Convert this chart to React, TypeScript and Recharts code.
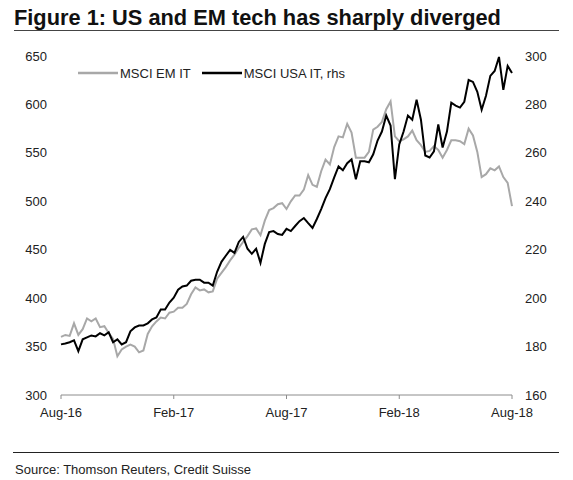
import { Legend, Line, LineChart, XAxis, YAxis } from "recharts";

// weekly readings, Aug-16 .. Aug-18
const emIt = [
  360, 362, 361, 374, 362, 368, 379, 376, 379, 370,
  371, 364, 358, 340, 347, 350, 352, 350, 344, 346,
  363, 371, 376, 380, 379, 385, 386, 390, 390, 394,
  404, 411, 408, 409, 406, 407, 420, 426, 432, 439,
  445, 452, 458, 464, 471, 472, 465, 480, 491, 493,
  497, 498, 492, 500, 506, 506, 512, 527, 517, 515,
  531, 543, 538, 556, 567, 566, 580, 571, 545, 545,
  545, 551, 574, 577, 582, 595, 603, 567, 562, 564,
  567, 573, 563, 558, 551, 552, 557, 553, 545, 553,
  563, 563, 562, 559, 575, 568, 551, 525, 528, 534,
  532, 536, 525, 519, 495,
];

const usaIt = [
  180.9, 181.3, 181.8, 182.6, 178.1, 183.0, 183.8, 184.6, 184.2, 185.5,
  184.6, 185.9, 181.8, 183.0, 180.9, 181.8, 186.3, 187.9, 188.7, 188.7,
  189.6, 191.2, 192.0, 195.3, 195.3, 198.2, 200.2, 203.5, 204.8, 205.2,
  207.2, 207.6, 207.6, 206.4, 206.4, 205.2, 210.9, 215.0, 217.5, 219.9,
  218.7, 223.2, 225.3, 220.4, 218.3, 220.4, 214.6, 222.4, 227.3, 227.7,
  226.5, 226.1, 228.6, 227.7, 229.8, 231.8, 233.1, 231.0, 229.0, 232.7,
  236.8, 241.3, 245.0, 249.9, 254.4, 252.8, 255.7, 257.3, 249.1, 256.5,
  256.5, 256.1, 259.4, 265.1, 268.8, 275.4, 271.3, 249.1, 263.5, 268.8,
  275.4, 273.7, 281.9, 273.7, 258.9, 258.1, 260.6, 271.7, 262.2, 268.8,
  280.7, 279.5, 278.7, 281.1, 290.1, 289.3, 285.2, 277.8, 283.6, 291.8,
  293.8, 299.6, 286.0, 295.9, 293.0,
];

const xTicks = [0, 26, 52, 78, 104];
const xLabels = ["Aug-16", "Feb-17", "Aug-17", "Feb-18", "Aug-18"];
const leftTicks = [300, 350, 400, 450, 500, 550, 600, 650];
const rightTicks = [160, 180, 200, 220, 240, 260, 280, 300];

const data = emIt.map((em, i) => ({ week: i, em, usa: usaIt[i] }));

const font = "'Liberation Sans', Arial, sans-serif";
const tickStyle = { fontSize: 13, fill: "#222", fontFamily: font };

function LegendRow({ payload }: any) {
  return (
    <div style={{ display: "flex", alignItems: "center", height: 18, fontFamily: font, fontSize: 13, color: "#222" }}>
      {(payload || []).map((item: any, i: number) => (
        <div key={i} style={{ display: "flex", alignItems: "center", marginRight: 11 }}>
          <svg width={40} height={18}>
            <line x1={0} x2={40} y1={9} y2={9} stroke={item.color} strokeWidth={2.5} />
          </svg>
          <span style={{ marginLeft: 2, whiteSpace: "nowrap" }}>{item.value}</span>
        </div>
      ))}
    </div>
  );
}

export default function App() {
  return (
    <div style={{ position: "absolute", left: 0, top: 0, width: 573, height: 480, background: "#fff", fontFamily: font }}>
      <div style={{ position: "absolute", left: 14, top: 7, fontSize: 21.8, lineHeight: "22px", fontWeight: 700, color: "#111", whiteSpace: "nowrap" }}>
        Figure 1: US and EM tech has sharply diverged
      </div>
      <div style={{ position: "absolute", left: 14, top: 30, width: 545, height: 1, background: "#444" }} />

      <LineChart width={573} height={480} data={data} margin={{ top: 56, right: 0, left: 0, bottom: 55 }}>
        <XAxis
          dataKey="week"
          type="number"
          domain={[0, 104]}
          ticks={xTicks}
          tickFormatter={(v) => xLabels[xTicks.indexOf(v)]}
          height={30}
          stroke="#8c8c8c"
          tickSize={4}
          tickMargin={9}
          tick={tickStyle}
          interval={0}
        />
        <YAxis
          yAxisId="left"
          domain={[300, 650]}
          ticks={leftTicks}
          width={61}
          axisLine={false}
          tickLine={false}
          tickSize={0}
          tickMargin={14}
          tick={tickStyle}
          interval={0}
        />
        <YAxis
          yAxisId="right"
          orientation="right"
          domain={[160, 300]}
          ticks={rightTicks}
          width={61}
          axisLine={false}
          tickLine={false}
          tickSize={0}
          tickMargin={13}
          tick={tickStyle}
          interval={0}
        />
        <Legend
          verticalAlign="middle"
          layout="horizontal"
          content={<LegendRow />}
          wrapperStyle={{ left: 78, top: 64, width: "auto" }}
        />
        <Line
          yAxisId="left"
          dataKey="em"
          name="MSCI EM IT"
          stroke="#a8a8a8"
          strokeWidth={2}
          dot={false}
          isAnimationActive={false}
        />
        <Line
          yAxisId="right"
          dataKey="usa"
          name="MSCI USA IT, rhs"
          stroke="#000"
          strokeWidth={2}
          dot={false}
          isAnimationActive={false}
        />
      </LineChart>

      <div style={{ position: "absolute", left: 13, top: 452, width: 546, height: 1, background: "#222" }} />
      <div style={{ position: "absolute", left: 15, top: 463, fontSize: 13, lineHeight: "13px", color: "#222", whiteSpace: "nowrap" }}>
        Source: Thomson Reuters, Credit Suisse
      </div>
    </div>
  );
}
